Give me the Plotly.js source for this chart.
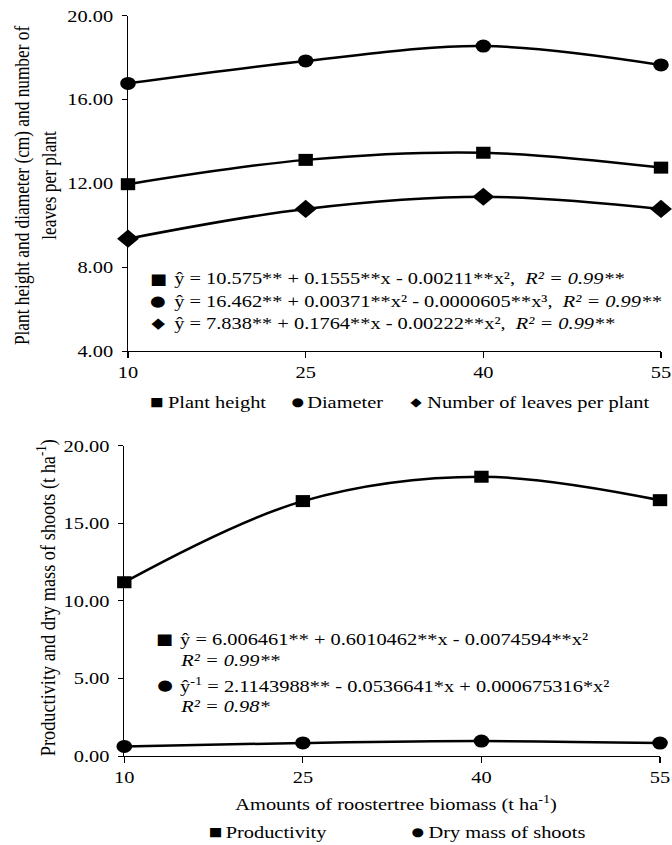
<!DOCTYPE html>
<html>
<head>
<meta charset="utf-8">
<script src="https://cdn.plot.ly/plotly-3.0.1.min.js"></script>
<style>
html,body{margin:0;padding:0;background:#fff;overflow:hidden}
#wrap{width:672px;height:845px;overflow:hidden}
#chart{width:560px;height:845px;transform:scaleX(1.2);transform-origin:0 0}
</style>
</head>
<body>
<div id="wrap"><div id="chart"></div></div>
<script>
// ---- data ----
var biomass = [10, 25, 40, 55];
var plantHeight = [11.96, 13.12, 13.46, 12.75];
var diameter = [16.77, 17.84, 18.55, 17.65];
var leavesPerPlant = [9.36, 10.78, 11.36, 10.78];
var productivity = [11.20, 16.43, 18.00, 16.49];
var dryMassShoots = [0.62, 0.84, 0.96, 0.83];
var topTicks = [4, 8, 12, 16, 20];
var bottomTicks = [0, 5, 10, 15, 20];

var FONT = 'Liberation Serif, Times New Roman, serif';
var SYM = 'DejaVu Sans, sans-serif';
// The reference figure is a horizontally stretched (x1.2) rendering;
// the plot is drawn 560px wide and stretched to 672px.
var REFW = 672, H = 845, W = 560;
function px(x){ return x / REFW; }
function py(y){ return 1 - y / H; }

function series(x, y, symbol, size, xa, ya, name){
  return {
    x: x, y: y, name: name, type: 'scatter', mode: 'lines+markers',
    xaxis: xa, yaxis: ya, cliponaxis: false, showlegend: false,
    line: {color: '#000', width: 2.5, shape: 'spline', smoothing: 1},
    marker: {color: '#000', symbol: symbol, size: size}
  };
}

var data = [
  series(biomass, plantHeight, 'square', 12, 'x', 'y', 'Plant height'),
  series(biomass, diameter, 'circle', 13, 'x', 'y', 'Diameter'),
  series(biomass, leavesPerPlant, 'diamond', 14, 'x', 'y', 'Number of leaves per plant'),
  series(biomass, productivity, 'square', 12, 'x2', 'y2', 'Productivity'),
  series(biomass, dryMassShoots, 'circle', 13, 'x2', 'y2', 'Dry mass of shoots')
];

function xaxisDef(domain, anchor){
  return {
    domain: domain, anchor: anchor, range: [10, 55], tickvals: biomass,
    showgrid: false, zeroline: false, showline: true, linecolor: '#000', linewidth: 1,
    ticks: 'outside', ticklen: 6, tickwidth: 1, tickcolor: '#000',
    tickfont: {family: FONT, size: 17, color: '#000'}, fixedrange: true
  };
}
function yaxisDef(domain, anchor, ticks){
  return {
    domain: domain, anchor: anchor, range: [ticks[0], ticks[ticks.length-1]],
    tickvals: ticks, ticktext: ticks.map(function(v){ return v.toFixed(2); }),
    showgrid: false, zeroline: false, showline: true, linecolor: '#000', linewidth: 1,
    ticks: 'outside', ticklen: 4, tickwidth: 1, tickcolor: '#000', ticklabelstandoff: 4,
    tickfont: {family: FONT, size: 17, color: '#000'}, fixedrange: true
  };
}

var ann = [];
function txt(x, y, text, size, opts){
  var a = {xref: 'paper', yref: 'paper', x: px(x), y: py(y), text: text, showarrow: false,
    xanchor: 'left', yanchor: 'middle', font: {family: FONT, size: size, color: '#000'}};
  for (var k in (opts || {})) a[k] = opts[k];
  ann.push(a);
}
function sym(x, y, s, size){
  txt(x, y, s, size, {xanchor: 'center', font: {family: SYM, size: size, color: '#000'}});
}
// titles
txt(36, 186, 'Plant height and diameter (cm) and number of<br>leaves per plant', 17.3, {xanchor: 'center', textangle: -90});
txt(47, 598, 'Productivity and dry mass of shoots (t ha<sup>-1</sup>)', 18.3, {xanchor: 'center', textangle: -90});
txt(233, 803, 'Amounts of roostertree biomass (t ha<sup>-1</sup>)', 17);

// equations, top chart
sym(158, 279, '■', 15);
sym(158, 301, '●', 15);
sym(158, 323, '◆', 15);
txt(171, 279, 'ŷ = 10.575** + 0.1555**x - 0.00211**x²,  <i>R² = 0.99**</i>', 17);
txt(171, 301, 'ŷ = 16.462** + 0.00371**x² - 0.0000605**x³,  <i>R² = 0.99**</i>', 17);
txt(171, 323, 'ŷ = 7.838** + 0.1764**x - 0.00222**x²,  <i>R² = 0.99**</i>', 17);
// equations, bottom chart
sym(164, 639, '■', 15);
sym(165, 685, '●', 15);
txt(177, 639, 'ŷ = 6.006461** + 0.6010462**x - 0.0074594**x²', 17);
txt(178, 660, '<i>R² = 0.99**</i>', 17);
txt(177, 685, 'ŷ<sup>-1</sup> = 2.1143988** - 0.0536641*x + 0.000675316*x²', 17);
txt(178, 706, '<i>R² = 0.98*</i>', 17);

// legends
function leg(xs, xt, y, s, label){
  sym(xs, y, s, 12);
  txt(xt, y, label, 17);
}
leg(156, 165, 402, '■', 'Plant height');
leg(297, 305, 402, '●', 'Diameter');
leg(416, 425, 402, '◆', 'Number of leaves per plant');
leg(215, 223, 832, '■', 'Productivity');
leg(417, 426, 832, '●', 'Dry mass of shoots');

var layout = {
  width: W, height: H, margin: {l: 0, r: 0, t: 0, b: 0},
  paper_bgcolor: '#fff', plot_bgcolor: '#fff', showlegend: false,
  xaxis: xaxisDef([px(128), px(661)], 'y'),
  yaxis: yaxisDef([py(351), py(15.7)], 'x', topTicks),
  xaxis2: xaxisDef([px(124.3), px(660)], 'y2'),
  yaxis2: yaxisDef([py(756), py(445.7)], 'x2', bottomTicks),
  annotations: ann
};
Plotly.newPlot('chart', data, layout, {displayModeBar: false, staticPlot: true});
</script>
</body>
</html>
